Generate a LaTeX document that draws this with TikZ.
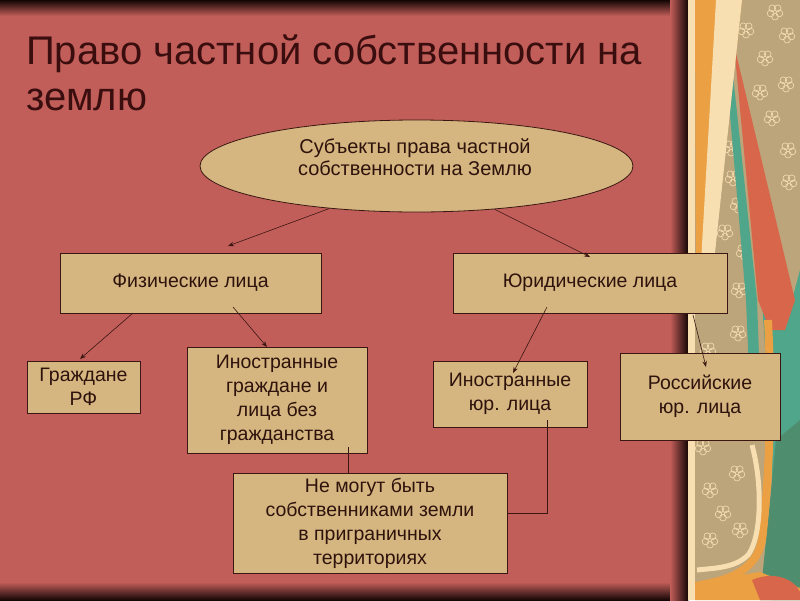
\documentclass[tikz,border=0pt]{standalone}
\usepackage{fontspec}
\setmainfont{Liberation Sans}
\usetikzlibrary{shapes.geometric,arrows.meta,calc}
\definecolor{panel}{HTML}{C25E59}
\definecolor{tanfill}{HTML}{D5B680}
\definecolor{edge}{HTML}{3A1712}
\definecolor{ink}{HTML}{2E120C}
\definecolor{titleink}{HTML}{3A0E0E}
\definecolor{darkbg}{HTML}{140605}
\definecolor{cream}{HTML}{F7DFB2}
\definecolor{orng}{HTML}{EAA043}
\definecolor{patt}{HTML}{BCA47B}
\definecolor{rust}{HTML}{D8664A}
\definecolor{tealc}{HTML}{4FA68A}
\definecolor{sgreen}{HTML}{4E8E6E}
\begin{document}
\begin{tikzpicture}[x=1pt,y=-1pt,
  box/.style={draw=edge, line width=0.8pt, fill=tanfill, inner sep=0pt, align=center, text=ink, font=\fontsize{19.5}{24}\selectfont},
  arr/.style={draw=edge, line width=0.6pt, -{Stealth[length=6pt,width=4.5pt]}},
  link/.style={draw=edge, line width=0.8pt},
  flw/.style={draw=cream, line width=0.6pt},
  titletext/.style={anchor=base west, inner sep=0pt, text=titleink, font=\fontsize{40}{46}\selectfont}
]
\useasboundingbox (0,0) rectangle (800,600);
% slide background
\fill[darkbg] (0,0) rectangle (800,600);
\fill[panel] (0,0) rectangle (688,600);
\shade[top color=darkbg, bottom color=panel] (0,0) rectangle (688,16);
\shade[top color=panel, bottom color=darkbg] (0,582) rectangle (688,600);
\shade[left color=panel, right color=darkbg] (670,0) rectangle (688,600);
% decorative strip
\fill[patt] (688,0) rectangle (800,600);
\fill[tealc] (800,270) -- (800,600) -- (772,600) -- (772,460) -- (762,300) -- (792,300) -- cycle;
\fill[sgreen] (776,440) -- (800,420) -- (800,600) -- (760,600) -- cycle;
\foreach \fx/\fy in {775/12,787/35,746/30,765/58,786/84,760/92,772/118,788/150,731/148,733/178,789/182,738/205,725/232,744/252,739/290,738/333,708/350,720/400,703/447,737/473,710/490,723/513,740/530,710/540}{
  \foreach \a in {90,162,234,306,18}{
    \draw[flw] ($(\fx,\fy)+(\a:4.6)$) circle (3.4);
  }
}
\fill[rust] (734,45) -- (795,300) -- (785,330) -- (770,330) -- (758,300) -- cycle;
\fill[tealc] (727,80) -- (732,66) -- (757,300) -- (762,440) -- (752,440) -- (746,300) -- cycle;
\draw[orng, line width=8pt] (768,320) .. controls (772,400) and (770,470) .. (762,540) .. controls (756,570) and (730,580) .. (700,585);
\draw[cream, line width=5pt] (752,445) .. controls (764,490) and (760,540) .. (748,555) .. controls (735,568) and (715,568) .. (697,570);
\fill[orng] (695,582) -- (760,572) -- (800,588) -- (800,600) -- (695,600) -- cycle;
\fill[rust] (752,580) .. controls (775,570) and (795,580) .. (800,592) -- (800,600) -- (760,600) -- cycle;
\fill[orng] (695,0) -- (742,0) -- (710,290) -- (696,300) -- cycle;
\fill[cream] (716,0) -- (742,0) -- (711,290) -- (701,300) -- (700,280) -- cycle;
\fill[cream] (688,0) rectangle (695,600);
% title
\node[titletext] (t1) at (26,64) {Право частной собственности на};
\node[titletext] (t2) at (26,110) {землю};
% nodes
\node[ellipse, draw=edge, line width=0.8pt, fill=tanfill, minimum width=433pt, minimum height=92pt, inner sep=0pt] (ell) at (416.5,166) {};
\node[inner sep=0pt, align=center, text=ink, font=\fontsize{20}{22}\selectfont] (ellt) at (415,157) {Субъекты права частной\\собственности на Землю};
\node[box, minimum width=261pt, minimum height=60pt] (fiz) at (190.5,283) {Физические лица};
\node[box, minimum width=274pt, minimum height=60pt] (yur) at (590,283) {Юридические лица};
\node[box, minimum width=113pt, minimum height=52pt] (grf) at (83.5,387) {Граждане\\РФ};
\node[box, minimum width=180pt, minimum height=106pt] (ing) at (277,400) {Иностранные\\граждане и\\лица без\\гражданства};
\node[box, minimum width=154pt, minimum height=66pt] (iyur) at (510,394) {Иностранные\\юр. лица};
\node[box, minimum width=160pt, minimum height=87pt] (ryur) at (700,396.5) {Российские\\юр. лица};
\node[box, minimum width=274pt, minimum height=100pt] (ne) at (370,523) {Не могут быть\\собственниками земли\\в приграничных\\территориях};
% connector ends
\coordinate (c1) at (228,246);
\coordinate (c2) at (590,257);
\coordinate (c3s) at (133,313);
\coordinate (c3) at (80,359);
\coordinate (c4s) at (233,307);
\coordinate (c4) at (267,347);
\coordinate (c5s) at (547,307);
\coordinate (c5) at (513,373);
\coordinate (c6s) at (693,315);
\coordinate (c6) at (706,367);
\coordinate (c7s) at (348,447);
\coordinate (c8s) at (547,420);
\coordinate (c8m) at (547,513);
% connectors
\draw[arr] (ell.206) -- (c1);
\draw[arr] (ell.331) -- (c2);
\draw[arr] (c3s) -- (c3);
\draw[arr] (c4s) -- (c4);
\draw[arr] (c5s) -- (c5);
\draw[arr] (c6s) -- (c6);
\draw[link] (c7s) -- (c7s |- ne.north);
\draw[link] (c8s) -- (c8m) -- (ne.east |- c8m);
\end{tikzpicture}
\end{document}
